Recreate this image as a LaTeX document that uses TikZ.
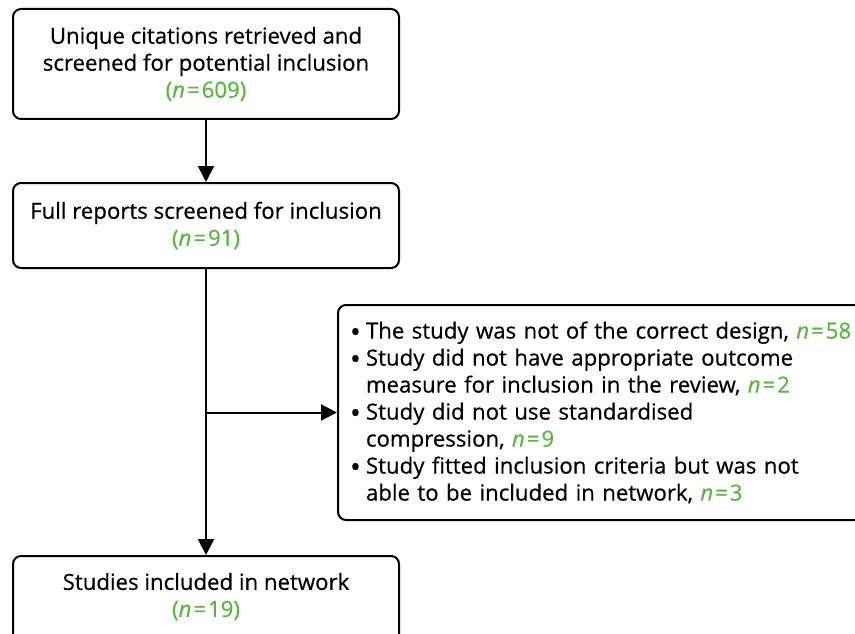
\documentclass[tikz,border=0pt]{standalone}
\usepackage{fontspec}
\setmainfont{Open Sans}[FakeBold=0.5]
\usetikzlibrary{arrows.meta}
\definecolor{ngreen}{RGB}{92,180,70}
\newcommand{\eqsp}{\hspace{2pt}=\hspace{2pt}}
\newcommand{\nval}[1]{{\color{ngreen}\textit{n}\eqsp#1}}
\newcommand{\bitem}{\makebox[16pt][l]{\raisebox{-3.5pt}{\scalebox{1.3}{•}}}}
\newcommand{\bcont}{\hspace*{16pt}}
\begin{document}
\begin{tikzpicture}[x=1pt,y=-1pt,
  box/.style={draw, line width=2pt, rounded corners=8pt, align=center,
    font=\fontsize{22.2}{27}\selectfont, inner sep=0pt},
  arr/.style={line width=2pt, -{Triangle[length=16pt,width=16pt]}}]
\clip (0,0) rectangle (855,634);
\fill[white] (0,0) rectangle (855,634);
\node[box, minimum width=386pt, minimum height=110pt] (b1) at (206,64)
  {Unique citations retrieved and\\screened for potential inclusion\\{\color{ngreen}(\textit{n}\eqsp609)}};
\node[box, minimum width=386pt, minimum height=85pt] (b2) at (206,225.5)
  {Full reports screened for inclusion\\{\color{ngreen}(\textit{n}\eqsp91)}};
\node[box, minimum width=552pt, minimum height=215pt, text width=528pt, align=left, inner xsep=12pt] (b3) at (614,412.5)
  {\bitem The study was not of the correct design, \nval{58}\\
   \bitem Study did not have appropriate outcome\\
   \bcont measure for inclusion in the review, \nval{2}\\
   \bitem Study did not use standardised\\
   \bcont compression, \nval{9}\\
   \bitem Study fitted inclusion criteria but was not\\
   \bcont able to be included in network, \nval{3}};
\node[box, minimum width=386pt, anchor=north, inner ysep=17pt] (b4) at (206,555)
  {Studies included in network\\{\color{ngreen}(\textit{n}\eqsp19)}\rule[-60pt]{0pt}{0pt}};
\draw[arr] (b1.south) -- (b2.north);
\draw[arr] (b2.south) -- (b4.north);
\draw[arr] (b2.south |- b3.west) -- (b3.west);
\end{tikzpicture}
\end{document}
